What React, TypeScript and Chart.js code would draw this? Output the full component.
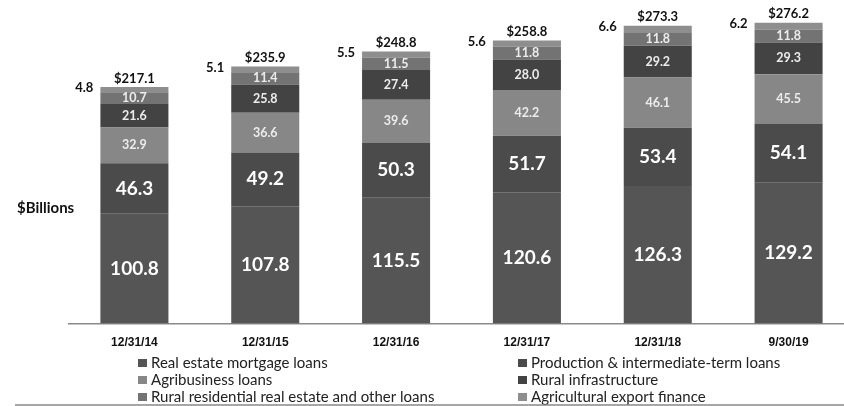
import React, { useEffect, useRef } from "react";
import { Chart, registerables } from "chart.js";

Chart.register(...registerables);

const categories = ["12/31/14", "12/31/15", "12/31/16", "12/31/17", "12/31/18", "9/30/19"];
const realEstate = [100.8, 107.8, 115.5, 120.6, 126.3, 129.2];
const production = [46.3, 49.2, 50.3, 51.7, 53.4, 54.1];
const agribusiness = [32.9, 36.6, 39.6, 42.2, 46.1, 45.5];
const ruralInfra = [21.6, 25.8, 27.4, 28.0, 29.2, 29.3];
const ruralResidential = [10.7, 11.4, 11.5, 11.8, 11.8, 11.8];
const exportFinance = [4.8, 5.1, 5.5, 5.6, 6.6, 6.2];
const totals = ["$217.1", "$235.9", "$248.8", "$258.8", "$273.3", "$276.2"];

const seriesNames = [
  "Real estate mortgage loans",
  "Production & intermediate-term loans",
  "Agribusiness loans",
  "Rural infrastructure",
  "Rural residential real estate and other loans",
  "Agricultural export finance",
];
const seriesColors = ["#555555", "#4b4b4b", "#878787", "#434343", "#737373", "#8e8e8e"];
const seriesData = [realEstate, production, agribusiness, ruralInfra, ruralResidential, exportFinance];

const FONT = "Lato, 'Open Sans', sans-serif";

const labelPlugin = {
  id: "customLabels",
  afterDatasetsDraw(chart: any) {
    const ctx = chart.ctx;
    ctx.save();
    chart.data.datasets.forEach((ds: any, di: number) => {
      const meta = chart.getDatasetMeta(di);
      meta.data.forEach((bar: any, i: number) => {
        const v = ds.data[i];
        const top = Math.min(bar.y, bar.base);
        const bottom = Math.max(bar.y, bar.base);
        const cy = (top + bottom) / 2;
        if (di === 5) {
          ctx.fillStyle = "#111";
          ctx.font = `bold 13px ${FONT}`;
          ctx.textAlign = "right";
          ctx.textBaseline = "middle";
          ctx.fillText(v.toFixed(1), bar.x - bar.width / 2 - 7, top + 1);
          ctx.textAlign = "center";
          ctx.textBaseline = "bottom";
          ctx.fillText(totals[i], bar.x, top - 2);
          return;
        }
        if (di <= 1) {
          ctx.fillStyle = "#ffffff";
          ctx.font = `bold 19px ${FONT}`;
        } else {
          ctx.fillStyle = "#ececec";
          ctx.font = `bold 12.5px ${FONT}`;
        }
        ctx.textAlign = "center";
        ctx.textBaseline = "middle";
        ctx.fillText(v.toFixed(1), bar.x, cy);
      });
    });
    ctx.restore();
  },
  afterDraw(chart: any) {
    const ctx = chart.ctx;
    ctx.save();
    ctx.fillStyle = "#111";
    ctx.font = `bold 15px ${FONT}`;
    ctx.textAlign = "left";
    ctx.textBaseline = "middle";
    ctx.fillText("$Billions", 17, 208);
    const cols = [138, 518];
    const rows = [363, 380, 397];
    ctx.font = `15px ${FONT}`;
    seriesNames.forEach((name, k) => {
      const col = k % 2;
      const row = Math.floor(k / 2);
      const x = cols[col];
      const y = rows[row];
      ctx.fillStyle = seriesColors[k];
      ctx.fillRect(x, y - 4, 9, 8);
      ctx.fillStyle = "#222";
      ctx.textAlign = "left";
      ctx.textBaseline = "middle";
      ctx.fillText(name, x + 13, y);
    });
    ctx.strokeStyle = "#888";
    ctx.lineWidth = 1.5;
    ctx.beginPath();
    ctx.moveTo(15, 405);
    ctx.lineTo(chart.width, 405);
    ctx.stroke();
    ctx.restore();
  },
};

export default function App() {
  const ref = useRef<HTMLCanvasElement>(null);
  useEffect(() => {
    document.body.style.overflow = "hidden";
    const chart = new Chart(ref.current!, {
      type: "bar",
      data: {
        labels: categories,
        datasets: seriesNames.map((name, k) => ({
          label: name,
          data: seriesData[k],
          backgroundColor: seriesColors[k],
          borderWidth: 0,
          barPercentage: 0.52,
          categoryPercentage: 1,
        })),
      },
      options: {
        animation: false,
        responsive: false,
        maintainAspectRatio: false,
        layout: { padding: { left: 69, right: 2, top: 0, bottom: 44 } },
        plugins: {
          legend: { display: false },
          tooltip: { enabled: false },
        },
        scales: {
          x: {
            stacked: true,
            grid: { display: false, drawTicks: false },
            border: { display: true, color: "#8a8a8a", width: 1.5 },
            ticks: {
              color: "#111",
              font: { family: "'Liberation Sans', Arial, sans-serif", weight: "bold", size: 12 },
              padding: 12,
            },
          },
          y: {
            stacked: true,
            display: false,
            min: 0,
            max: 297,
          },
        },
      },
      plugins: [labelPlugin],
    });
    return () => chart.destroy();
  }, []);
  return (
    <div style={{ position: "absolute", left: 0, top: 0, width: 856, height: 406 }}>
      <canvas ref={ref} width={856} height={406} style={{ display: "block", width: 856, height: 406 }} />
    </div>
  );
}
